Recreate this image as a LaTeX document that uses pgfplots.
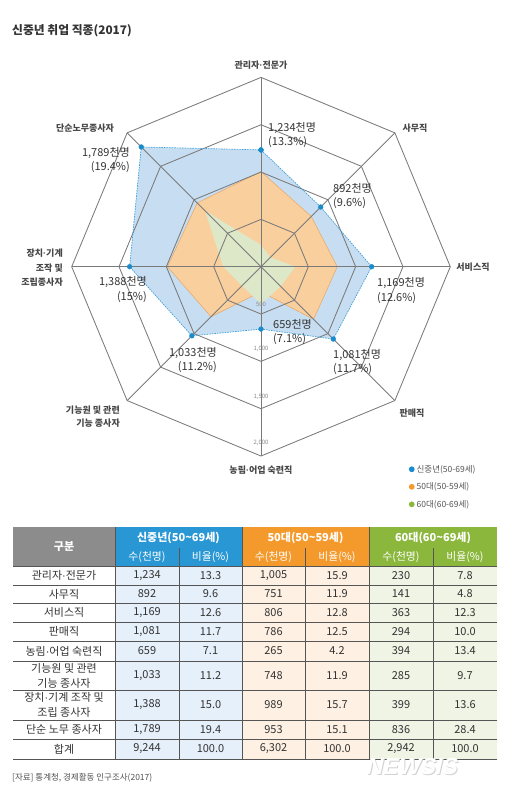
\documentclass[border=0pt]{standalone}
\usepackage{fontspec}
\setmainfont{Noto Sans CJK KR}
\newfontfamily\wmfont[FakeSlant=0.22]{Liberation Sans}
\newfontfamily\latinf{Liberation Sans}
\newcommand\md{{\latinf ·}}
\usepackage{pgfplots}
\usepackage{pgfplotstable}
\pgfplotsset{compat=1.18}
\definecolor{blueD}{HTML}{1A8CCB}
\definecolor{blueL}{HTML}{3A9FDA}
\definecolor{blueF}{HTML}{C7DDF1}
\definecolor{oraF}{HTML}{F9CF9E}
\definecolor{oraE}{HTML}{E8A763}
\definecolor{grnF}{HTML}{DDE8C9}
\definecolor{gridc}{HTML}{7A7A7A}
\definecolor{txt}{HTML}{333333}
\definecolor{cattxt}{HTML}{474747}
\definecolor{ringtxt}{HTML}{8A8A8A}
\definecolor{legtxt}{HTML}{555555}
\definecolor{hblue}{HTML}{2897D4}
\definecolor{horange}{HTML}{F49A2C}
\definecolor{hgreen}{HTML}{8BB73D}
\definecolor{hgray}{HTML}{8C8C8C}
\definecolor{lblue}{HTML}{E6F0FA}
\definecolor{lorange}{HTML}{FEF1E3}
\definecolor{lgreen}{HTML}{EFF4E5}
\definecolor{tline}{HTML}{555555}
\newcommand\fs[2]{\fontsize{#1}{#2}\selectfont}

% angle (deg), values in thousand persons
\pgfplotstableread{
ang mid m50 m60
90 1234 1005 230
45 892 751 141
0 1169 806 363
-45 1081 786 294
-90 659 265 394
-135 1033 748 285
180 1388 989 399
135 1789 953 836
90 1234 1005 230
}\radar

\pgfplotstableread{
ang r1 r2 r3 r4
90 500 1000 1500 2000
45 500 1000 1500 2000
0 500 1000 1500 2000
-45 500 1000 1500 2000
-90 500 1000 1500 2000
-135 500 1000 1500 2000
180 500 1000 1500 2000
135 500 1000 1500 2000
90 500 1000 1500 2000
}\gridtab

\begin{document}
\begin{tikzpicture}
\begin{scope}[x=1pt,y=-1pt]
\path[use as bounding box] (0,0) rectangle (506,793);
\end{scope}

\begin{axis}[
  at={(261pt,-266.7pt)}, anchor=center,
  x=0.09465pt, y=0.09465pt,
  xmin=-2000, xmax=2000, ymin=-2000, ymax=2000,
  hide axis, clip=false,
  legend image code/.code={\fill[#1] (0.2em,0pt) circle (2.9pt);},
  legend style={draw=none, fill=none, at={(axis description cs:0.890,-0.018)},
    anchor=north west, font=\fs{8.5}{9}, text=legtxt, row sep=5pt,
    inner sep=0pt, legend cell align=left},
]
\addlegendimage{fill=blueD, draw=none}
\addlegendentry{신중년(50-69세)}
\addlegendimage{fill=horange, draw=none}
\addlegendentry{50대(50-59세)}
\addlegendimage{fill=hgreen, draw=none}
\addlegendentry{60대(60-69세)}

% fills
\addplot[forget plot, data cs=polar, fill=blueF, draw=none] table[x=ang,y=mid]{\radar};
\addplot[forget plot, data cs=polar, fill=oraF, draw=oraE, line width=0.5pt] table[x=ang,y=m50]{\radar};
\addplot[forget plot, data cs=polar, fill=grnF, draw=none] table[x=ang,y=m60]{\radar};

% grid
\addplot[forget plot, data cs=polar, gridc, line width=0.85pt] table[x=ang,y=r1]{\gridtab};
\addplot[forget plot, data cs=polar, gridc, line width=0.85pt] table[x=ang,y=r2]{\gridtab};
\addplot[forget plot, data cs=polar, gridc, line width=0.85pt] table[x=ang,y=r3]{\gridtab};
\addplot[forget plot, data cs=polar, gridc, line width=0.85pt] table[x=ang,y=r4]{\gridtab};
\addplot[forget plot, data cs=polar, gridc, line width=0.85pt] coordinates {(90,2000)(-90,2000)};
\addplot[forget plot, data cs=polar, gridc, line width=0.85pt] coordinates {(45,2000)(-135,2000)};
\addplot[forget plot, data cs=polar, gridc, line width=0.85pt] coordinates {(0,2000)(180,2000)};
\addplot[forget plot, data cs=polar, gridc, line width=0.85pt] coordinates {(135,2000)(-45,2000)};

% main series outline and points
\addplot[forget plot, data cs=polar, blueL, line width=0.65pt, dash pattern=on 1.6pt off 1pt] table[x=ang,y=mid]{\radar};
\addplot[forget plot, data cs=polar, only marks, mark=*, mark size=2.4pt, mark options={fill=blueD, draw=blueD}] table[x=ang,y=mid]{\radar};
\end{axis}

\begin{scope}[x=1pt,y=-1pt]
% title
\node[anchor=west, font=\bfseries\fs{11.8}{13}, text=txt, inner sep=0pt] at (12,31) {신중년 취업 직종(2017)};

% ring labels
\foreach \yy/\lab in {304/500, 349/{1,000}, 397/{1,500}, 443/{2,000}}
  \node[font=\fs{6}{7}, text=ringtxt, inner sep=0pt] at (261,\yy) {\lab};

% category labels
\begin{scope}[every node/.style={font=\bfseries\fs{9}{13}, text=cattxt, inner sep=0pt}]
\node at (261,65.5) {관리자\md 전문가};
\node at (415,127.7) {사무직};
\node at (473,266.7) {서비스직};
\node at (412,412.7) {판매직};
\node at (261,470) {농림\md 어업 숙련직};
\node[anchor=east, align=right] at (120,416.5) {기능원 및 관련\\기능 종사자};
\node[anchor=east, align=right, font=\bfseries\fs{9}{14.5}] at (63,268) {장치\md 기계\\조작 및\\조립종사자};
\node at (85,127.7) {단순노무종사자};
\end{scope}

% data labels
\begin{scope}[every node/.style={font=\fs{11}{14.5}, text=txt, inner sep=0pt}]
\node[anchor=west, align=left] at (268,135) {1,234천명\\(13.3\%)};
\node[anchor=west, align=left] at (333,196) {892천명\\(9.6\%)};
\node[anchor=west, align=left] at (377,290.5) {1,169천명\\(12.6\%)};
\node[anchor=west, align=left] at (333,362) {1,081천명\\(11.7\%)};
\node[anchor=west, align=left] at (273,332) {659천명\\(7.1\%)};
\node[anchor=east, align=right] at (217,360) {1,033천명\\(11.2\%)};
\node[anchor=east, align=right] at (147,289.5) {1,388천명\\(15\%)};
\node[anchor=east, align=right] at (130,160) {1,789천명\\(19.4\%)};
\end{scope}

% ---------- table ----------
\fill[hgray] (13,527) rectangle (115,566);
\fill[hblue] (115,527) rectangle (242,566);
\fill[horange] (242,527) rectangle (369,566);
\fill[hgreen] (369,527) rectangle (497,566);
\fill[lblue] (115,566) rectangle (242,759);
\fill[lorange] (242,566) rectangle (369,759);
\fill[lgreen] (369,566) rectangle (497,759);
\foreach \yy in {566,585,603,622,641,661,690,720,739}
  \draw[tline, line width=0.75pt] (13,\yy)--(497,\yy);
\draw[tline, line width=1pt] (13,759)--(497,759);
\foreach \xx in {115,242,369}
  \draw[tline, line width=0.75pt] (\xx,527)--(\xx,759);
\foreach \xx in {179,305,433}
  \draw[tline, line width=0.75pt] (\xx,548)--(\xx,759);

\begin{scope}[every node/.style={font=\bfseries\fs{11}{12}, text=white, inner sep=0pt}]
\node at (64,546.5) {구분};
\node at (178.5,537.5) {신중년(50\textasciitilde69세)};
\node at (305.5,537.5) {50대(50\textasciitilde59세)};
\node at (433,537.5) {60대(60\textasciitilde69세)};
\end{scope}
\begin{scope}[every node/.style={font=\fs{10.8}{12}, text=white, inner sep=0pt}]
\node at (147,557) {수(천명)};
\node at (210.5,557) {비율(\%)};
\node at (273.5,557) {수(천명)};
\node at (337,557) {비율(\%)};
\node at (401,557) {수(천명)};
\node at (465,557) {비율(\%)};
\end{scope}

\begin{scope}[every node/.style={font=\fs{11}{15}, text=txt, inner sep=0pt, align=center}]
\foreach \yy/\name/\a/\b/\c/\d/\e/\f in {
  575.5/관리자\md 전문가/{1,234}/13.3/{1,005}/15.9/230/7.8,
  594/사무직/892/9.6/751/11.9/141/4.8,
  612.5/서비스직/{1,169}/12.6/806/12.8/363/12.3,
  631.5/판매직/{1,081}/11.7/786/12.5/294/10.0,
  651/농림\md 어업 숙련직/659/7.1/265/4.2/394/13.4,
  675.5/{기능원 및 관련\\기능 종사자}/{1,033}/11.2/748/11.9/285/9.7,
  705/{장치\md 기계 조작 및\\조립 종사자}/{1,388}/15.0/989/15.7/399/13.6,
  729.5/단순 노무 종사자/{1,789}/19.4/953/15.1/836/28.4,
  749/합계/{9,244}/100.0/{6,302}/100.0/{2,942}/100.0}{
  \node at (64,\yy) {\name};
  \node at (147,\yy) {\a};
  \node at (210.5,\yy) {\b};
  \node at (273.5,\yy) {\c};
  \node at (337,\yy) {\d};
  \node at (401,\yy) {\e};
  \node at (465,\yy) {\f};
}
\end{scope}

% watermark
\node[font=\wmfont\bfseries\fs{23}{23}, text=gray!35, inner sep=0pt] at (412,768) {NEWSIS};
\node[font=\wmfont\bfseries\fs{23}{23}, text=white, inner sep=0pt] at (411,767) {NEWSIS};

% source
\node[anchor=west, font=\fs{8.5}{9}, text=txt!85, inner sep=0pt] at (12,778) {[자료] 통계청, 경제활동 인구조사(2017)};
\end{scope}
\end{tikzpicture}
\end{document}
